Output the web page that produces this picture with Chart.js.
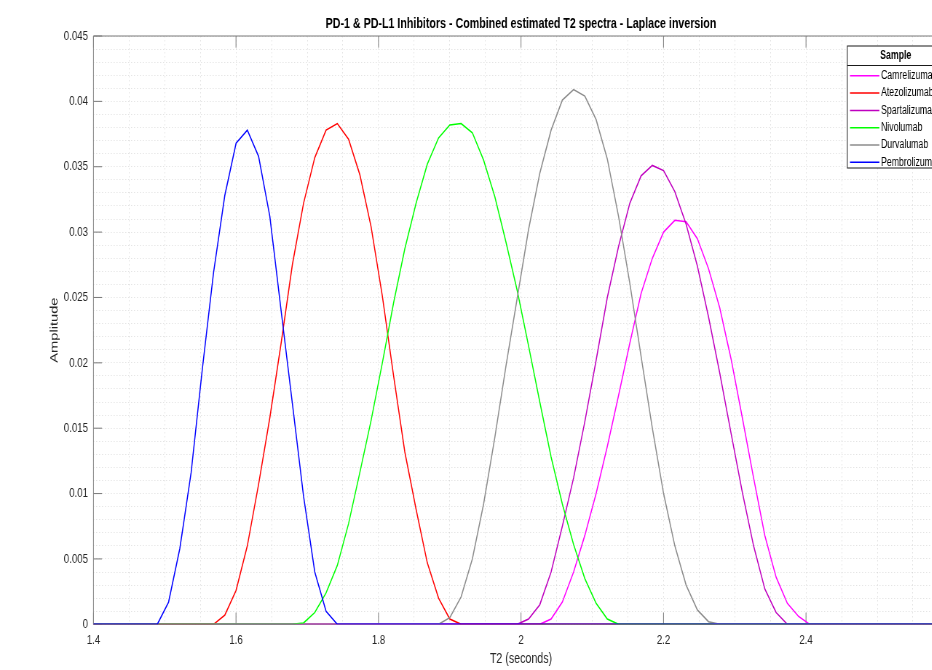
<!DOCTYPE html>
<html>
<head>
<meta charset="utf-8">
<script src="https://cdn.jsdelivr.net/npm/chart.js@4.4.1/dist/chart.umd.min.js"></script>
<style>
  html, body { margin: 0; padding: 0; overflow: hidden; background: #ffffff; }
  #wrap { width: 1340px; height: 670px; transform: scaleX(0.728); transform-origin: 0 0; }
  canvas { display: block; }
</style>
</head>
<body>
<div id="wrap"><canvas id="chart" width="1340" height="670"></canvas></div>
<script>
// ---------------- DATA ----------------
const TITLE = 'PD-1 & PD-L1 Inhibitors - Combined estimated T2 spectra - Laplace inversion';
const X_TITLE = 'T2 (seconds)';
const Y_TITLE = 'Amplitude';
const LEGEND_TITLE = 'Sample';

const T2 = [
  1.3949, 1.4107, 1.4264, 1.4422, 1.4580, 1.4738, 1.4896, 1.5054, 1.5212, 1.5370,
  1.5527, 1.5685, 1.5843, 1.6001, 1.6159, 1.6317, 1.6475, 1.6633, 1.6791, 1.6948,
  1.7106, 1.7264, 1.7422, 1.7580, 1.7738, 1.7896, 1.8054, 1.8212, 1.8369, 1.8527,
  1.8685, 1.8843, 1.9001, 1.9159, 1.9317, 1.9475, 1.9633, 1.9790, 1.9948, 2.0106,
  2.0264, 2.0422, 2.0580, 2.0738, 2.0896, 2.1054, 2.1211, 2.1369, 2.1527, 2.1685,
  2.1843, 2.2001, 2.2159, 2.2317, 2.2475, 2.2632, 2.2790, 2.2948, 2.3106, 2.3264,
  2.3422, 2.3580, 2.3738, 2.3896, 2.4053, 2.4211, 2.4369, 2.4527, 2.4685, 2.4843,
  2.5001, 2.5159, 2.5317, 2.5474, 2.5632, 2.5790, 2.5948, 2.6106
];

const camrelizumab = [
  0, 0, 0, 0, 0, 0, 0, 0, 0, 0,
  0, 0, 0, 0, 0, 0, 0, 0, 0, 0,
  0, 0, 0, 0, 0, 0, 0, 0, 0, 0,
  0, 0, 0, 0, 0, 0, 0, 0, 0, 0,
  0, 0.0004, 0.0017, 0.0040, 0.0068, 0.0100, 0.0136, 0.0175, 0.0215, 0.0253,
  0.0280, 0.0300, 0.0309, 0.0308, 0.0295, 0.0272, 0.0242, 0.0203, 0.0158, 0.0112,
  0.0068, 0.0036, 0.0016, 0.0006, 0, 0, 0, 0, 0, 0,
  0, 0, 0, 0, 0, 0, 0, 0
];

const atezolizumab = [
  0, 0, 0, 0, 0, 0, 0, 0, 0, 0,
  0, 0, 0.0007, 0.0026, 0.0060, 0.0107, 0.0158, 0.0215, 0.0275, 0.0322,
  0.0357, 0.0378, 0.0383, 0.0371, 0.0344, 0.0304, 0.0251, 0.0190, 0.0132, 0.0088,
  0.0047, 0.0020, 0.0004, 0, 0, 0, 0, 0, 0, 0,
  0, 0, 0, 0, 0, 0, 0, 0, 0, 0,
  0, 0, 0, 0, 0, 0, 0, 0, 0, 0,
  0, 0, 0, 0, 0, 0, 0, 0, 0, 0,
  0, 0, 0, 0, 0, 0, 0, 0
];

const spartalizumab = [
  0, 0, 0, 0, 0, 0, 0, 0, 0, 0,
  0, 0, 0, 0, 0, 0, 0, 0, 0, 0,
  0, 0, 0, 0, 0, 0, 0, 0, 0, 0,
  0, 0, 0, 0, 0, 0, 0, 0, 0, 0.0004,
  0.0015, 0.0040, 0.0075, 0.0112, 0.0155, 0.0202, 0.0250, 0.0289, 0.0322, 0.0343,
  0.0351, 0.0347, 0.0331, 0.0306, 0.0274, 0.0235, 0.0192, 0.0146, 0.0101, 0.0060,
  0.0027, 0.0009, 0, 0, 0, 0, 0, 0, 0, 0,
  0, 0, 0, 0, 0, 0, 0, 0
];

const nivolumab = [
  0, 0, 0, 0, 0, 0, 0, 0, 0, 0,
  0, 0, 0, 0, 0, 0, 0, 0, 0, 0.0001,
  0.0009, 0.0024, 0.0045, 0.0077, 0.0116, 0.0156, 0.0200, 0.0246, 0.0287, 0.0322,
  0.0352, 0.0372, 0.0382, 0.0383, 0.0376, 0.0355, 0.0327, 0.0292, 0.0255, 0.0213,
  0.0170, 0.0128, 0.0092, 0.0061, 0.0035, 0.0016, 0.0004, 0, 0, 0,
  0, 0, 0, 0, 0, 0, 0, 0, 0, 0,
  0, 0, 0, 0, 0, 0, 0, 0, 0, 0,
  0, 0, 0, 0, 0, 0, 0, 0
];

const durvalumab = [
  0, 0, 0, 0, 0, 0, 0, 0, 0, 0,
  0, 0, 0, 0, 0, 0, 0, 0, 0, 0,
  0, 0, 0, 0, 0, 0, 0, 0, 0, 0,
  0, 0, 0.0005, 0.0021, 0.0050, 0.0092, 0.0143, 0.0198, 0.0250, 0.0302,
  0.0345, 0.0378, 0.0401, 0.0409, 0.0404, 0.0386, 0.0356, 0.0312, 0.0261, 0.0205,
  0.0150, 0.0100, 0.0060, 0.0030, 0.0011, 0.0002, 0, 0, 0, 0,
  0, 0, 0, 0, 0, 0, 0, 0, 0, 0,
  0, 0, 0, 0, 0, 0, 0, 0
];

const pembrolizumab = [
  0, 0, 0, 0, 0, 0, 0, 0.0017, 0.0058, 0.0116,
  0.0195, 0.0269, 0.0328, 0.0368, 0.0378, 0.0358, 0.0312, 0.0240, 0.0169, 0.0098,
  0.0040, 0.0010, 0, 0, 0, 0, 0, 0, 0, 0,
  0, 0, 0, 0, 0, 0, 0, 0, 0, 0,
  0, 0, 0, 0, 0, 0, 0, 0, 0, 0,
  0, 0, 0, 0, 0, 0, 0, 0, 0, 0,
  0, 0, 0, 0, 0, 0, 0, 0, 0, 0,
  0, 0, 0, 0, 0, 0, 0, 0
];

const SERIES_NAMES = ['Camrelizumab', 'Atezolizumab', 'Spartalizumab', 'Nivolumab', 'Durvalumab', 'Pembrolizumab'];
const SERIES_VALUES = [camrelizumab, atezolizumab, spartalizumab, nivolumab, durvalumab, pembrolizumab];
const SERIES_COLORS = ['#FF00FF', '#FF0000', '#BF00BF', '#00FF00', '#8C8C8C', '#0000FF'];

const X_TICK_LABELS = [1.4, 1.6, 1.8, 2, 2.2, 2.4, 2.6];
const Y_TICK_LABELS = [0, 0.005, 0.01, 0.015, 0.02, 0.025, 0.03, 0.035, 0.04, 0.045];

// ---------------- STYLE ----------------
const FONT = "'Liberation Sans', Arial, Helvetica, sans-serif";
const TEXT_COLOR = '#262626';
const AXIS_COLOR = '#787878';
const GRID_COLOR = 'rgba(0,0,0,0.11)';
const CANVAS_W = 1340;
const PLOT_LEFT = 128.4;
const PLOT_RIGHT = 1302.9;
const PLOT_TOP = 36;
const PLOT_BOTTOM = 624.3;
const TICK_LEN = 11.7;

function matchLabel(list, v) {
  const m = list.find(t => Math.abs(t - v) < 1e-7);
  return m === undefined ? '' : String(m);
}

const framePlugin = {
  id: 'frame',
  beforeDatasetsDraw(chart) {
    const {ctx, chartArea: a, scales: {x, y}} = chart;
    ctx.save();
    ctx.strokeStyle = AXIS_COLOR;
    ctx.lineWidth = 1;
    ctx.beginPath();
    ctx.rect(a.left, a.top, a.right - a.left, a.bottom - a.top);
    ctx.stroke();
    ctx.beginPath();
    X_TICK_LABELS.forEach(t => {
      const px = x.getPixelForValue(t);
      ctx.moveTo(px, a.bottom); ctx.lineTo(px, a.bottom - TICK_LEN);
      ctx.moveTo(px, a.top); ctx.lineTo(px, a.top + TICK_LEN);
    });
    Y_TICK_LABELS.forEach(t => {
      const py = y.getPixelForValue(t);
      ctx.moveTo(a.left, py); ctx.lineTo(a.left + TICK_LEN, py);
      ctx.moveTo(a.right, py); ctx.lineTo(a.right - TICK_LEN, py);
    });
    ctx.stroke();
    ctx.restore();
  },
  afterDraw(chart) {
    const {ctx, chartArea: a} = chart;
    ctx.save();
    // title
    ctx.fillStyle = '#000';
    ctx.font = 'bold 14.67px ' + FONT;
    ctx.textAlign = 'center';
    ctx.textBaseline = 'middle';
    ctx.fillText(TITLE, (a.left + a.right) / 2, 23.5);

    // legend
    const L = {left: 1163.9, right: 1297, top: 46, sep: 65.5, bottom: 168,
               line0: 1167.6, line1: 1207.9, textX: 1210.2, row0: 75.8, dy: 17.3, head: 56};
    ctx.fillStyle = '#fff';
    ctx.fillRect(L.left, L.top, L.right - L.left, L.bottom - L.top);
    ctx.strokeStyle = '#1a1a1a';
    ctx.lineWidth = 1;
    ctx.strokeRect(L.left, L.top, L.right - L.left, L.bottom - L.top);
    ctx.beginPath();
    ctx.moveTo(L.left, L.sep); ctx.lineTo(L.right, L.sep);
    ctx.stroke();
    ctx.fillStyle = '#000';
    ctx.font = 'bold 12px ' + FONT;
    ctx.textAlign = 'center';
    ctx.fillText(LEGEND_TITLE, (L.left + L.right) / 2, L.head);
    ctx.font = '12px ' + FONT;
    ctx.textAlign = 'left';
    chart.data.datasets.forEach((ds, i) => {
      const yy = L.row0 + i * L.dy;
      ctx.strokeStyle = ds.borderColor;
      ctx.lineWidth = 1.5;
      ctx.beginPath();
      ctx.moveTo(L.line0, yy); ctx.lineTo(L.line1, yy);
      ctx.stroke();
      ctx.fillStyle = '#000';
      ctx.fillText(ds.label, L.textX, yy);
    });
    ctx.restore();
  }
};

const datasets = SERIES_NAMES.map((name, i) => ({
  label: name,
  data: T2.map((t, j) => ({x: t, y: SERIES_VALUES[i][j]})),
  borderColor: SERIES_COLORS[i],
  backgroundColor: SERIES_COLORS[i],
  borderWidth: 1.5,
  pointRadius: 0,
  tension: 0,
  fill: false,
  order: SERIES_NAMES.length - i
}));

new Chart(document.getElementById('chart'), {
  type: 'line',
  data: {datasets},
  options: {
    responsive: false,
    animation: false,
    events: [],
    layout: {padding: {top: PLOT_TOP, right: CANVAS_W - PLOT_RIGHT, left: 0, bottom: 0}},
    plugins: {legend: {display: false}, tooltip: {enabled: false}, title: {display: false}},
    scales: {
      x: {
        type: 'linear', min: 1.4, max: 2.6,
        ticks: {stepSize: 0.05, autoSkip: false, maxRotation: 0, minRotation: 0,
                color: TEXT_COLOR, font: {family: FONT, size: 13.33}, padding: 8,
                callback: v => matchLabel(X_TICK_LABELS, v)},
        grid: {color: GRID_COLOR, lineWidth: 1, drawTicks: false},
        border: {display: false, dash: [1.5, 2.5]},
        title: {display: true, text: X_TITLE, color: TEXT_COLOR, font: {family: FONT, size: 14.67},
                padding: {top: 0, bottom: 2.2}},
        afterFit(s) { s.height = 670 - PLOT_BOTTOM; }
      },
      y: {
        type: 'linear', min: 0, max: 0.045,
        ticks: {stepSize: 0.001, autoSkip: false, color: TEXT_COLOR,
                font: {family: FONT, size: 13.33}, padding: 7.5,
                callback: v => matchLabel(Y_TICK_LABELS, v)},
        grid: {color: GRID_COLOR, lineWidth: 1, drawTicks: false},
        border: {display: false, dash: [1.5, 2.5]},
        title: {display: true, text: Y_TITLE, color: TEXT_COLOR, font: {family: FONT, size: 14.67},
                padding: {top: 66, bottom: 0}},
        afterFit(s) { s.width = PLOT_LEFT; }
      }
    }
  },
  plugins: [framePlugin]
});
</script>
</body>
</html>
